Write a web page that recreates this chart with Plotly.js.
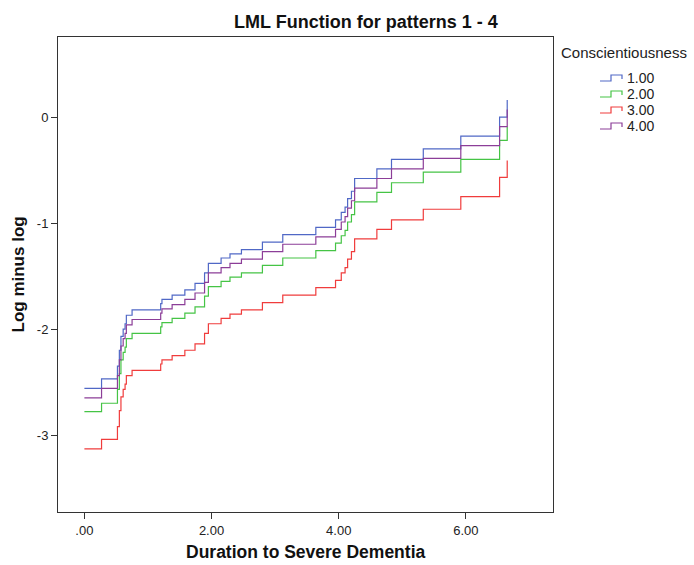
<!DOCTYPE html>
<html>
<head>
<meta charset="utf-8">
<script src="https://cdn.plot.ly/plotly-3.0.1.min.js"></script>
<style>html,body{margin:0;padding:0;background:#fff;}#chart{width:694px;height:565px;}</style>
</head>
<body>
<div id="chart"></div>
<script>
// Event times (Duration to Severe Dementia)
var times = [0.00,0.27,0.52,0.55,0.575,0.61,0.64,0.66,0.75,1.20,1.22,1.38,1.58,1.74,1.89,1.95,2.15,2.29,2.47,2.80,3.12,3.64,3.95,4.04,4.10,4.14,4.20,4.25,4.60,4.83,5.33,5.92,6.53,6.65];
// Log minus log values per covariate pattern
var lml1 = [-2.56,-2.47,-2.35,-2.20,-2.07,-2.00,-1.95,-1.87,-1.82,-1.76,-1.72,-1.68,-1.63,-1.57,-1.47,-1.38,-1.33,-1.29,-1.25,-1.18,-1.11,-1.04,-0.97,-0.90,-0.85,-0.77,-0.70,-0.58,-0.49,-0.40,-0.30,-0.18,0.00,0.16];
var lml2 = [-2.78,-2.70,-2.57,-2.42,-2.29,-2.22,-2.17,-2.09,-2.04,-1.98,-1.94,-1.90,-1.85,-1.79,-1.69,-1.60,-1.55,-1.51,-1.47,-1.40,-1.33,-1.26,-1.19,-1.12,-1.07,-0.99,-0.92,-0.80,-0.71,-0.62,-0.52,-0.40,-0.22,-0.09];
var lml3 = [-3.13,-3.04,-2.92,-2.77,-2.64,-2.57,-2.52,-2.44,-2.39,-2.33,-2.29,-2.25,-2.20,-2.14,-2.04,-1.95,-1.90,-1.86,-1.82,-1.75,-1.68,-1.61,-1.54,-1.47,-1.42,-1.34,-1.27,-1.15,-1.06,-0.97,-0.87,-0.75,-0.57,-0.41];
var lml4 = [-2.65,-2.56,-2.44,-2.29,-2.16,-2.09,-2.04,-1.96,-1.91,-1.85,-1.81,-1.77,-1.72,-1.66,-1.56,-1.47,-1.42,-1.38,-1.34,-1.27,-1.20,-1.13,-1.06,-0.99,-0.94,-0.86,-0.79,-0.67,-0.58,-0.49,-0.39,-0.27,-0.09,0.07];
var seriesNames = ["1.00","2.00","3.00","4.00"];
var seriesColors = ["#5068c6","#45c445","#f03c3c","#8c3e98"];
var xTickVals = [0,2,4,6];
var xTickText = [".00","2.00","4.00","6.00"];
var yTickVals = [0,-1,-2,-3];
var yTickText = ["0","-1","-2","-3"];

var allY = [lml1,lml2,lml3,lml4];
var traces = allY.map(function(yv,i){
  return {x: times, y: yv, type:"scatter", mode:"lines", name: seriesNames[i],
          line:{shape:"hv", color: seriesColors[i], width:1.2}};
});

// layout geometry (pixels) -> paper coords helpers
var L = 58, R = 553, T = 37, B = 512;
function px(x){ return (x - L)/(R - L); }
function py(y){ return (B - y)/(B - T); }

var font = "Liberation Sans, Arial, sans-serif";
var annotations = [
  {text:"<b>LML Function for patterns 1 - 4</b>", xref:"paper", yref:"paper", x:px(366), y:py(22),
   xanchor:"center", yanchor:"middle", showarrow:false, font:{family:font, size:18, color:"#111"}},
  {text:"<b>Duration to Severe Dementia</b>", xref:"paper", yref:"paper", x:0.5, y:py(552),
   xanchor:"center", yanchor:"middle", showarrow:false, font:{family:font, size:17.5, color:"#111"}},
  {text:"<b>Log minus log</b>", xref:"paper", yref:"paper", x:px(18), y:0.5,
   xanchor:"center", yanchor:"middle", textangle:-90, showarrow:false, font:{family:font, size:17, color:"#111"}},
  {text:"Conscientiousness", xref:"paper", yref:"paper", x:px(559), y:py(53),
   xanchor:"left", yanchor:"middle", showarrow:false, font:{family:font, size:15, color:"#222"}}
];
var shapes = [];
var legendY = [78, 94, 110, 126];
seriesNames.forEach(function(nm, i){
  var yc = legendY[i];
  annotations.push({text: nm, xref:"paper", yref:"paper", x:px(625), y:py(yc), xanchor:"left", yanchor:"middle",
    showarrow:false, font:{family:font, size:14, color:"#222"}});
  var path = "M" + px(600) + "," + py(yc+3) + " L" + px(611) + "," + py(yc+3) + " L" + px(611) + "," + py(yc-3) +
             " L" + px(622) + "," + py(yc-3) + " L" + px(622) + "," + py(yc+1);
  shapes.push({type:"path", xref:"paper", yref:"paper", path: path, line:{color: seriesColors[i], width:1.2}});
});

var layout = {
  width:694, height:565,
  paper_bgcolor:"#fff", plot_bgcolor:"#fff",
  margin:{l:L, r:694-R, t:T, b:565-B},
  font:{family:font, color:"#222", size:13},
  showlegend:false,
  xaxis:{range:[-0.415,7.37], tickvals:xTickVals, ticktext:xTickText, ticks:"outside", ticklen:6,
         tickcolor:"#333", showline:true, linecolor:"#333", linewidth:1, mirror:true, showgrid:false,
         zeroline:false, tickfont:{family:font, size:13, color:"#222"}},
  yaxis:{range:[-3.726,0.755], tickvals:yTickVals, ticktext:yTickText, ticks:"outside", ticklen:6,
         tickcolor:"#333", showline:true, linecolor:"#333", linewidth:1, mirror:true, showgrid:false,
         zeroline:false, tickfont:{family:font, size:13, color:"#222"}},
  annotations: annotations,
  shapes: shapes
};
Plotly.newPlot("chart", traces, layout, {displayModeBar:false, staticPlot:true});
</script>
</body>
</html>
